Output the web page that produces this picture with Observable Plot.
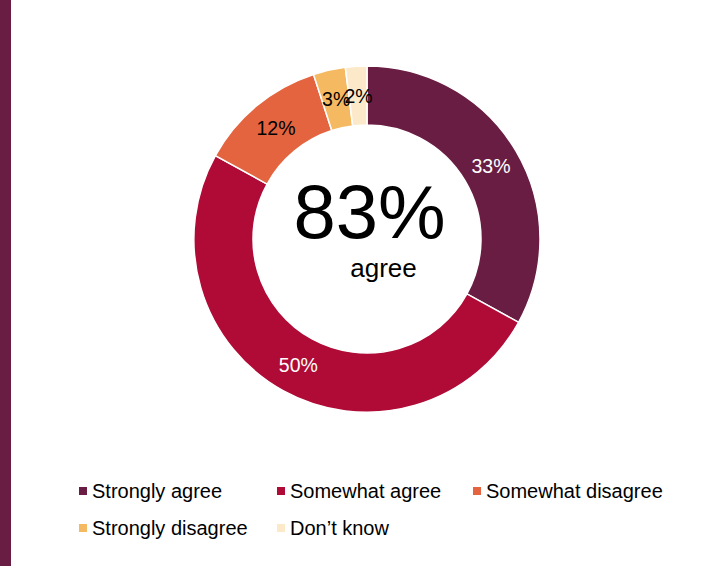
<!DOCTYPE html>
<html>
<head>
<meta charset="utf-8">
<script src="https://cdn.jsdelivr.net/npm/d3@7"></script>
<script src="https://cdn.jsdelivr.net/npm/@observablehq/plot@0.6"></script>
<style>
  body { margin: 0; background: #fff; font-family: "Liberation Sans", Arial, sans-serif; }
  #wrap { position: relative; width: 711px; height: 566px; overflow: hidden; background: #fff; }
  #bar { position: absolute; left: 0; top: 0; width: 11px; height: 566px; background: #6a1d42; }
  #chart { position: absolute; left: 0; top: 0; }
  .leg { position: absolute; height: 24px; line-height: 24px; font-size: 20px; color: #000; display: flex; align-items: center; white-space: nowrap; }
  .sw { width: 8px; height: 8px; margin-right: 5px; flex: none; }
</style>
</head>
<body>
<div id="wrap">
  <div id="bar"></div>
  <div id="chart"></div>
</div>
<script>
// ---- data ----
const categories = ["Strongly agree", "Somewhat agree", "Somewhat disagree", "Strongly disagree", "Don’t know"];
const values = [33, 50, 12, 3, 2];
const colors = ["#6a1d42", "#b00b36", "#e3643f", "#f4b961", "#fce9c9"];
const centerValue = "83%";
const centerLabel = "agree";

// ---- derived table ----
const innerFrac = 114 / 173;
const data = categories.map((c, i) => ({category: c, value: values[i], color: colors[i]}));
const pie = d3.pie().sort(null).value(d => d.value);
const arcs = pie(data);
const labels = arcs.map(a => {
  const mid = (a.startAngle + a.endAngle) / 2;
  const rr = (1 + innerFrac) / 2;
  return {
    category: a.data.category,
    text: a.data.value + "%",
    x: rr * Math.sin(mid),
    y: rr * Math.cos(mid),
    dark: d3.hsl(a.data.color).l < 0.5
  };
});

function donut(index, scales) {
  const cx = scales.x(0), cy = scales.y(0);
  const r = scales.x(1) - cx;
  const color = scales.color || d3.scaleOrdinal(categories, colors);
  const arc = d3.arc().innerRadius(r * innerFrac).outerRadius(r);
  const g = d3.create("svg:g").attr("transform", `translate(${cx},${cy})`);
  g.selectAll("path").data(arcs).join("path")
    .attr("d", arc)
    .attr("fill", d => color(d.data.category))
    .attr("stroke", "#fff")
    .attr("stroke-width", 1.5);
  return g.node();
}

const font = "Liberation Sans, Arial, sans-serif";
const chart = Plot.plot({
  width: 711,
  height: 460,
  margin: 0,
  style: {background: "transparent", fontFamily: font},
  x: {domain: [-1, 1], range: [194, 540], axis: null},
  y: {domain: [-1, 1], range: [412, 66], axis: null},
  color: {domain: categories, range: colors},
  marks: [
    Plot.dot(data, {x: () => 0, y: () => 0, fill: "category", r: 0}),
    donut,
    Plot.text(labels.filter(d => d.dark), {x: "x", y: "y", text: "text", fill: "#fff", fontSize: 19.5}),
    Plot.text(labels.filter(d => !d.dark), {x: "x", y: "y", text: "text", fill: "#000", fontSize: 19.5}),
    Plot.text([centerValue], {x: () => 0, y: () => 0, text: d => d, fontSize: 76, fill: "#000", dx: 2, dy: -26}),
    Plot.text([centerLabel], {x: () => 0, y: () => 0, text: d => d, fontSize: 26, fill: "#000", dx: 16, dy: 29})
  ]
});
document.getElementById("chart").appendChild(chart);

// ---- legend ----
const legendPos = [[79, 491], [277, 491], [473, 491], [79, 528], [277, 528]];
const wrap = document.getElementById("wrap");
categories.forEach((c, i) => {
  const item = document.createElement("div");
  item.className = "leg";
  item.style.left = legendPos[i][0] + "px";
  item.style.top = (legendPos[i][1] - 12) + "px";
  const sw = document.createElement("span");
  sw.className = "sw";
  sw.style.background = colors[i];
  const t = document.createElement("span");
  t.textContent = c;
  item.appendChild(sw);
  item.appendChild(t);
  wrap.appendChild(item);
});
</script>
</body>
</html>
